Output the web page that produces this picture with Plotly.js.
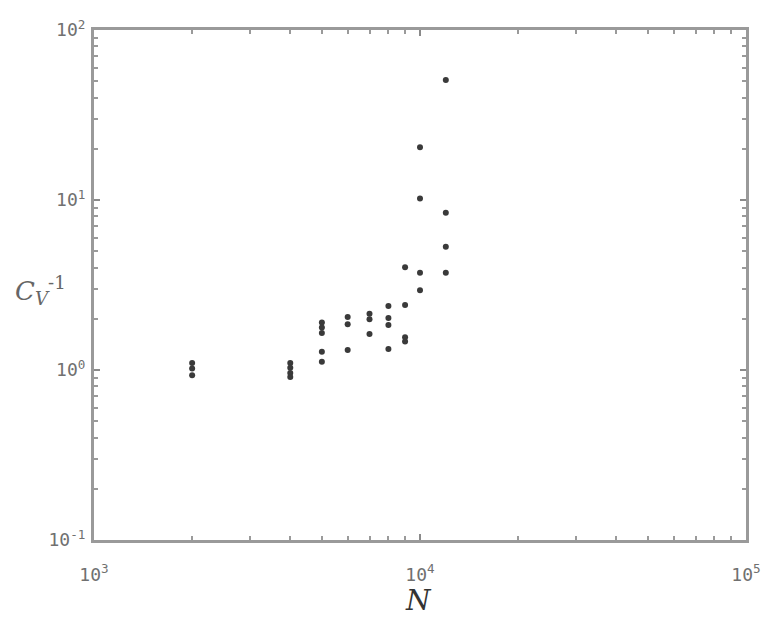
<!DOCTYPE html>
<html>
<head>
<meta charset="utf-8">
<script src="https://cdn.plot.ly/plotly-3.0.1.min.js"></script>
<style>html,body{margin:0;padding:0;background:#fff;}</style>
</head>
<body>
<div id="chart" style="width:771px;height:639px;"></div>
<script>
// Data: N and C_V^{-1}
const N_values = [2000, 2000, 2000,
                  4000, 4000, 4000, 4000,
                  5000, 5000, 5000, 5000, 5000,
                  6000, 6000, 6000,
                  7000, 7000, 7000,
                  8000, 8000, 8000, 8000,
                  9000, 9000, 9000, 9000,
                  10000, 10000, 10000, 10000,
                  12000, 12000, 12000, 12000];
const Cv_inv = [1.10, 1.02, 0.93,
                1.10, 1.03, 0.96, 0.91,
                1.90, 1.78, 1.65, 1.28, 1.12,
                2.05, 1.86, 1.31,
                2.14, 1.99, 1.63,
                2.38, 2.02, 1.84, 1.33,
                4.02, 2.41, 1.56, 1.47,
                20.4, 10.2, 3.73, 2.95,
                50.8, 8.42, 5.31, 3.73];
const xTickVals = [1000, 10000, 100000];
const xTickText = ['10<sup>3</sup>', '10<sup>4</sup>', '10<sup>5</sup>'];
const yTickVals = [0.1, 1, 10, 100];
const yTickText = ['10<sup>-1</sup>', '10<sup>0</sup>', '10<sup>1</sup>', '10<sup>2</sup>'];
const minorMultipliers = [2, 3, 4, 5, 6, 7, 8, 9];

function minorVals(decades) {
  const out = [];
  decades.forEach(d => minorMultipliers.forEach(m => out.push(m * Math.pow(10, d))));
  return out;
}

const axisCommon = {
  type: 'log',
  showgrid: false,
  zeroline: false,
  showline: true,
  linecolor: '#9a9a9a',
  linewidth: 3,
  mirror: 'ticks',
  ticks: 'inside',
  ticklen: 6,
  tickwidth: 2,
  tickcolor: '#8a8a8a',
  tickmode: 'array',
  tickfont: {family: 'DejaVu Sans Mono, monospace', size: 18, color: '#707070'}
};

const trace = {
  x: N_values,
  y: Cv_inv,
  type: 'scatter',
  mode: 'markers',
  marker: {symbol: 'circle', size: 6, color: '#3a3a3a', line: {width: 0}},
  hoverinfo: 'x+y'
};

const layout = {
  width: 771,
  height: 639,
  margin: {l: 94, r: 25, t: 30, b: 99},
  paper_bgcolor: '#ffffff',
  plot_bgcolor: '#ffffff',
  showlegend: false,
  xaxis: Object.assign({}, axisCommon, {
    range: [3, 5],
    tickvals: xTickVals,
    ticktext: xTickText,
    ticklabelstandoff: 16,
    minor: {tickmode: 'array', tickvals: minorVals([3, 4]), ticks: 'inside', ticklen: 4, tickwidth: 2, tickcolor: '#9a9a9a', showgrid: false}
  }),
  yaxis: Object.assign({}, axisCommon, {
    range: [-1, 2],
    tickvals: yTickVals,
    ticktext: yTickText,
    ticklabelstandoff: 2,
    minor: {tickmode: 'array', tickvals: minorVals([-1, 0, 1]), ticks: 'inside', ticklen: 4, tickwidth: 2, tickcolor: '#9a9a9a', showgrid: false}
  }),
  annotations: [
    {
      text: '<i>N</i>', xref: 'paper', yref: 'paper', x: 0.497, y: -0.118,
      showarrow: false, xanchor: 'center', yanchor: 'middle',
      font: {family: 'DejaVu Serif, serif', size: 28, color: '#333'}
    },
    {
      text: '<i>C</i><sub><i>V</i></sub><sup>-1</sup>', xref: 'paper', yref: 'paper',
      x: -0.125, y: 0.49, showarrow: false, xanchor: 'left', yanchor: 'middle',
      font: {family: 'DejaVu Serif, serif', size: 26, color: '#666'}
    }
  ]
};

Plotly.newPlot('chart', [trace], layout, {displayModeBar: false, staticPlot: true});
</script>
</body>
</html>
